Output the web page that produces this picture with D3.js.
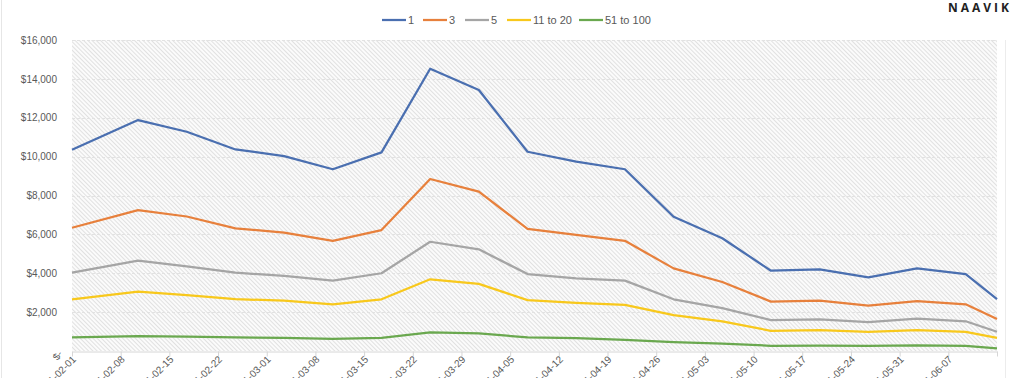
<!DOCTYPE html>
<html lang="en">
<head>
    <meta charset="UTF-8">
    <title>Line chart</title>
    <script src="https://d3js.org/d3.v7.min.js"></script>
    <style>
        body {
            margin: 0;
            background: #fff;
            font-family: "Liberation Sans", Arial, sans-serif;
        }
        .tick text {
            fill: #595959;
            font-size: 10px;
        }
        .legend text {
            fill: #595959;
            font-size: 11px;
        }
    </style>
</head>
<body>
    <div id="chart"></div>

    <script>
        // datos
        var dates = ["2021-02-01 00:00", "2021-02-10 12:00", "2021-02-17 12:00", "2021-02-24 12:00",
            "2021-03-03 12:00", "2021-03-10 12:00", "2021-03-17 12:00", "2021-03-24 12:00",
            "2021-03-31 12:00", "2021-04-07 12:00", "2021-04-14 12:00", "2021-04-21 12:00",
            "2021-04-28 12:00", "2021-05-05 12:00", "2021-05-12 12:00", "2021-05-19 12:00",
            "2021-05-26 12:00", "2021-06-02 12:00", "2021-06-09 12:00", "2021-06-14 00:00"];
        var tickLabels = ["2021-02-01", "2021-02-08", "2021-02-15", "2021-02-22", "2021-03-01",
            "2021-03-08", "2021-03-15", "2021-03-22", "2021-03-29", "2021-04-05", "2021-04-12",
            "2021-04-19", "2021-04-26", "2021-05-03", "2021-05-10", "2021-05-17", "2021-05-24",
            "2021-05-31", "2021-06-07", "2021-06-14"];
        var seriesNames = ["1", "3", "5", "11 to 20", "51 to 100"];
        var s1 = [10350, 11880, 11280, 10370, 10030, 9350, 10220, 14520, 13430, 10250,
            9740, 9350, 6910, 5800, 4130, 4200, 3790, 4250, 3960, 2670];
        var s3 = [6340, 7250, 6920, 6310, 6090, 5670, 6220, 8850, 8200, 6280,
            5970, 5670, 4250, 3550, 2540, 2590, 2330, 2570, 2400, 1650];
        var s5 = [4030, 4650, 4350, 4030, 3860, 3620, 4000, 5620, 5230, 3960,
            3740, 3620, 2660, 2210, 1590, 1630, 1490, 1660, 1530, 990];
        var s11to20 = [2660, 3050, 2880, 2670, 2590, 2400, 2660, 3690, 3450, 2620,
            2480, 2370, 1850, 1520, 1040, 1080, 980, 1080, 980, 680];
        var s51to100 = [700, 770, 740, 700, 680, 620, 680, 960, 910, 700,
            660, 570, 460, 380, 270, 280, 260, 290, 260, 140];
        var colors = ["#4a6fb0", "#e7803c", "#a5a5a5", "#f8c81c", "#6aa84f"];
        var yTicks = [0, 2000, 4000, 6000, 8000, 10000, 12000, 14000, 16000];

        var width = 1024;
        var height = 378;
        var margin = { top: 40, right: 25, bottom: 27, left: 72 };

        var parseData = d3.utcParse("%Y-%m-%d %H:%M");
        var parseTick = d3.utcParse("%Y-%m-%d");
        var allSeries = [s1, s3, s5, s11to20, s51to100];

        var svg = d3.select("#chart")
            .append("svg")
            .attr("width", width)
            .attr("height", height);

        // patron rayado del fondo
        var pattern = svg.append("defs").append("pattern")
            .attr("id", "hatch")
            .attr("patternUnits", "userSpaceOnUse")
            .attr("width", 3)
            .attr("height", 3)
            .attr("patternTransform", "rotate(-45)");
        pattern.append("rect").attr("width", 3).attr("height", 3).attr("fill", "#fbfbfb");
        pattern.append("line")
            .attr("x1", 0.5).attr("y1", 0).attr("x2", 0.5).attr("y2", 3)
            .attr("stroke", "#e1e1e1")
            .attr("stroke-width", 1);

        var x = d3.scaleUtc()
            .domain([parseTick("2021-02-01"), parseTick("2021-06-14")])
            .range([margin.left, width - margin.right - 2]);

        var y = d3.scaleLinear()
            .domain([0, 16000])
            .range([height - margin.bottom, margin.top]);

        // bordes del area
        svg.append("line").attr("x1", 1.5).attr("x2", 1.5).attr("y1", 0).attr("y2", height)
            .attr("stroke", "#e6e6e6");
        svg.append("line").attr("x1", 1005.5).attr("x2", 1005.5).attr("y1", 40).attr("y2", height)
            .attr("stroke", "#ececec");

        svg.append("rect")
            .attr("x", x.range()[0])
            .attr("y", y(16000))
            .attr("width", x.range()[1] - x.range()[0])
            .attr("height", y(0) - y(16000))
            .attr("fill", "url(#hatch)");

        // lineas de la cuadricula
        svg.append("g")
            .selectAll("line")
            .data(yTicks.slice(1))
            .enter().append("line")
            .attr("x1", x.range()[0])
            .attr("x2", x.range()[1])
            .attr("y1", d => Math.round(y(d)) + 0.5)
            .attr("y2", d => Math.round(y(d)) + 0.5)
            .attr("stroke", "#e2e2e2")
            .attr("stroke-dasharray", "3,2");

        // eje Y
        var yAxis = svg.append("g")
            .attr("transform", `translate(${margin.left - 12},0)`)
            .call(d3.axisLeft(y).tickValues(yTicks).tickSize(0)
                .tickFormat(d => d === 0 ? "$-" : "$" + d3.format(",")(d)));
        yAxis.select(".domain").remove();
        yAxis.selectAll(".tick text")
            .filter(d => d === 0)
            .attr("transform", "translate(2,-2) rotate(-55)");

        // eje X
        var xAxis = svg.append("g")
            .attr("transform", `translate(0,${Math.round(y(0)) + 0.5})`)
            .call(d3.axisBottom(x)
                .tickValues(tickLabels.map(parseTick))
                .tickSize(5)
                .tickSizeOuter(0)
                .tickFormat((d, i) => i === tickLabels.length - 1 ? "" : d3.utcFormat("%Y-%m-%d")(d)));
        xAxis.select(".domain").attr("stroke", "#d6d6d6");
        xAxis.selectAll(".tick line").attr("stroke", "#d6d6d6");
        xAxis.selectAll(".tick text")
            .style("text-anchor", "end")
            .attr("y", 0)
            .attr("dx", -3)
            .attr("dy", 9)
            .attr("transform", "rotate(-45)");

        // lineas
        var line = d3.line()
            .x((d, i) => x(parseData(dates[i])))
            .y(d => y(d));

        svg.append("g")
            .selectAll("path")
            .data(allSeries)
            .enter().append("path")
            .attr("fill", "none")
            .attr("stroke", (d, i) => colors[i])
            .attr("stroke-width", 2.25)
            .attr("stroke-linejoin", "round")
            .attr("d", line);

        // leyenda
        var legendX = [382, 423, 465, 507, 579];
        var legend = svg.selectAll(".legend")
            .data(seriesNames)
            .enter().append("g")
            .attr("class", "legend")
            .attr("transform", (d, i) => "translate(" + legendX[i] + ",20)");

        legend.append("line")
            .attr("x1", 0).attr("x2", 24)
            .attr("stroke", (d, i) => colors[i])
            .attr("stroke-width", 2.25);

        legend.append("text")
            .attr("x", 26)
            .attr("dy", "0.35em")
            .text(d => d);

        // logo
        svg.append("text")
            .attr("x", 1012)
            .attr("y", 12)
            .attr("text-anchor", "end")
            .attr("fill", "#222")
            .style("font-family", "'Open Sans', sans-serif")
            .style("font-weight", "bold")
            .style("font-size", "12px")
            .style("letter-spacing", "3px")
            .text("NAAVIK");
    </script>
</body>
</html>
